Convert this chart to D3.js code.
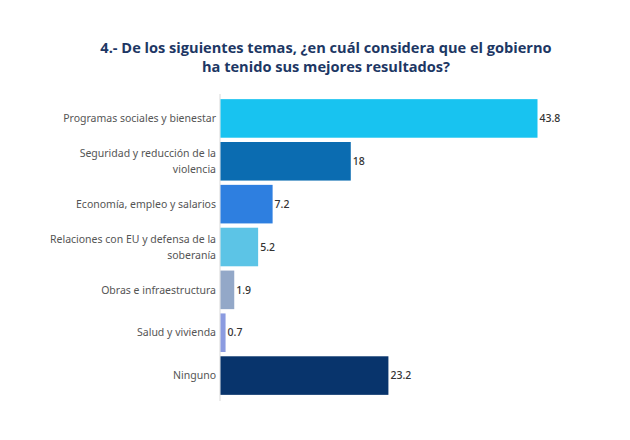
<!DOCTYPE html>
<html>
<head>
<meta charset="utf-8">
<script src="https://cdn.jsdelivr.net/npm/d3@7"></script>
<style>
  body { margin: 0; background: #fff; }
</style>
</head>
<body>
<div id="chart"></div>
<script>
// datos de la pregunta 4
const categories = [
  'Programas sociales y bienestar',
  'Seguridad y reducción de la violencia',
  'Economía, empleo y salarios',
  'Relaciones con EU y defensa de la soberanía',
  'Obras e infraestructura',
  'Salud y vivienda',
  'Ninguno'
];
const values = [43.8, 18, 7.2, 5.2, 1.9, 0.7, 23.2];
const barColors = ['#18c3f0', '#0b6cb1', '#2e7fe0', '#5cc4e6', '#93a8c8', '#8b9be0', '#08346c'];
// etiquetas partidas en líneas como en la imagen
const labelLines = [
  ['Programas sociales y bienestar'],
  ['Seguridad y reducción de la', 'violencia'],
  ['Economía, empleo y salarios'],
  ['Relaciones con EU y defensa de la', 'soberanía'],
  ['Obras e infraestructura'],
  ['Salud y vivienda'],
  ['Ninguno']
];
const titleLines = [
  '4.- De los siguientes temas, ¿en cuál considera que el gobierno',
  'ha tenido sus mejores resultados?'
];

const width = 630, height = 440;
const svg = d3.select('#chart').append('svg')
  .attr('width', width)
  .attr('height', height);

svg.append('g').selectAll('text').data(titleLines).enter().append('text')
  .attr('x', 326)
  .attr('y', (d, i) => 53 + i * 19)
  .attr('text-anchor', 'middle')
  .attr('font-family', 'Open Sans, sans-serif')
  .attr('font-weight', 700)
  .attr('font-size', 14.6)
  .attr('fill', '#1d3764')
  .text(d => d);

const x = d3.scaleLinear().domain([0, 43.8]).range([220, 537]);
const y = d3.scaleBand().domain(categories).range([97, 397]).paddingInner(0.1).paddingOuter(0.05);

// línea del eje
svg.append('line')
  .attr('x1', x(0)).attr('x2', x(0))
  .attr('y1', 94).attr('y2', 401)
  .attr('stroke', '#d9d9d9')
  .attr('stroke-width', 1);

svg.append('g').selectAll('rect').data(values).enter().append('rect')
  .attr('x', x(0) + 0.5)
  .attr('y', (d, i) => y(categories[i]))
  .attr('width', d => x(d) - x(0))
  .attr('height', y.bandwidth())
  .attr('fill', (d, i) => barColors[i]);

svg.append('g').selectAll('text').data(values).enter().append('text')
  .attr('x', d => x(d) + 2.5)
  .attr('y', (d, i) => y(categories[i]) + y.bandwidth() / 2)
  .attr('dy', '0.35em')
  .attr('font-family', 'Noto Sans, sans-serif')
  .attr('font-size', 10.5)
  .attr('font-weight', 500)
  .attr('fill', '#333')
  .text(d => d);

const labels = svg.append('g').selectAll('text').data(labelLines).enter().append('text')
  .attr('x', 216)
  .attr('y', (d, i) => y(categories[i]) + y.bandwidth() / 2)
  .attr('text-anchor', 'end')
  .attr('font-family', 'Noto Sans, sans-serif')
  .attr('font-size', 10.5)
  .attr('fill', '#555');

labels.each(function(lines) {
  const t = d3.select(this);
  lines.forEach((l, j) => {
    t.append('tspan')
      .attr('x', 216)
      .attr('dy', j === 0 ? (0.35 - (lines.length - 1) * 0.75) + 'em' : '1.5em')
      .text(l);
  });
});
</script>
</body>
</html>
